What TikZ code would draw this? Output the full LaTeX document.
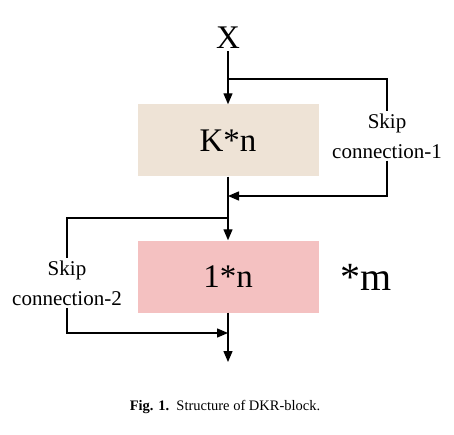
\documentclass[tikz,border=0pt]{standalone}
\usepackage{fontspec}
\setmainfont{Liberation Serif}
\usepackage{xcolor}
\usetikzlibrary{arrows.meta,positioning}
\definecolor{blockbeige}{HTML}{EEE3D6}
\definecolor{blockpink}{HTML}{F4C1C1}

\begin{document}
\begin{tikzpicture}[
  x=1pt, y=1pt,
  block/.style={rectangle, draw=none, minimum width=181pt, minimum height=72pt, font=\fontsize{33}{36}\selectfont},
  skiplabel/.style={align=center, inner sep=2pt, font=\fontsize{21}{30}\selectfont},
  arrow/.style={-{Triangle[length=11pt, width=9pt]}, line width=1.3pt},
  link/.style={line width=1.3pt}
]
\useasboundingbox (0,0) rectangle (454,434);
\node[font=\fontsize{33}{36}\selectfont, inner sep=2pt] (input) at (228,396) {X};
\node[block, fill=blockbeige] (knode) at (228,293.5) {K*n};
\node[block, fill=blockpink] (onenode) at (228,157.5) {1*n};
\node[font=\fontsize{40}{44}\selectfont] (times) at (366,157) {*m};
\node[skiplabel] (skipa) at (387,298) {Skip\\connection-1};
\node[skiplabel] (skipb) at (67,151) {Skip\\connection-2};
\coordinate (splita) at (228,355);
\coordinate (mergea) at (228,238);
\coordinate (splitb) at (228,216);
\coordinate (mergeb) at (228,101);
\coordinate (output) at (228,72);
\draw[arrow] (input) -- (knode);
\draw[link] (splita) -| (skipa.north);
\draw[arrow] (skipa.south) |- (mergea);
\draw[arrow] (knode) -- (onenode);
\draw[link] (splitb) -| (skipb.north);
\draw[arrow] (skipb.south) |- (mergeb);
\draw[arrow] (onenode) -- (output);
\node[font=\fontsize{14.5}{17}\selectfont] (caption) at (225,27) {\textbf{Fig. 1.}\enspace Structure of DKR-block.};
\end{tikzpicture}
\end{document}
